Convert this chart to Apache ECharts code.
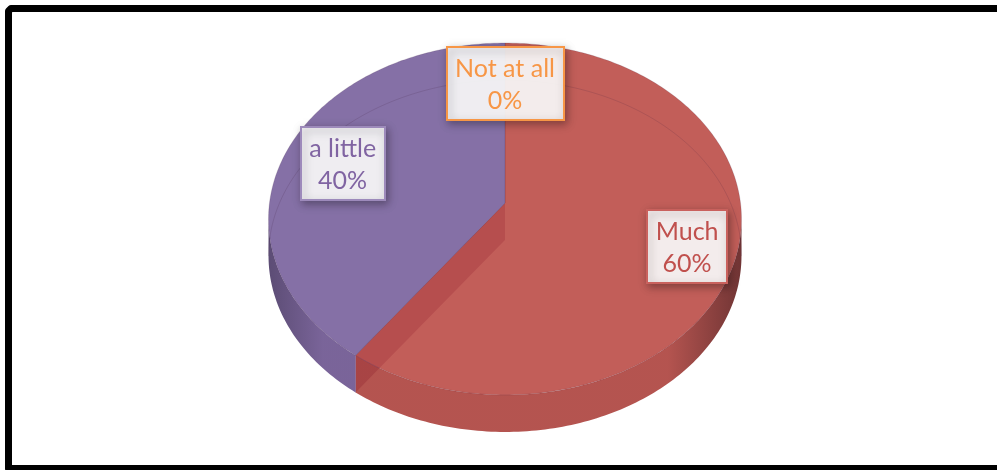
<!DOCTYPE html>
<html>
<head>
<meta charset="utf-8">
<script src="https://cdn.jsdelivr.net/npm/echarts@6/dist/echarts.min.js"></script>
<style>
  html, body { margin: 0; padding: 0; background: #fff; overflow: hidden; }
  #chart { width: 997px; height: 470px; }
</style>
</head>
<body>
<div id="chart"></div>
<script>
// Survey answers and their shares
const categories = ['Much', 'a little', 'Not at all'];
const values = [60, 40, 0];

// Per-category look of the 3D slices and their labels
const sliceStyle = {
  'Much':       { top: '#bb4d47', wallLight: '#ac413c', wallDark: '#5e1d1d', face: '#7f578c', text: '#C0504D', border: '#c9615d' },
  'a little':   { top: '#78609c', wallLight: '#6b538e', wallDark: '#483763', face: '#7f578c', text: '#8064A2', border: '#9d8abb' },
  'Not at all': { top: '#F79646', wallLight: '#e0853a', wallDark: '#8a4a18', face: '#c8742f', text: '#F79646', border: '#F79646' }
};

// Tilted disc: centre, radii, perspective strength and wall depth (px)
const PIE = { cx: 505, cy: 203, rx: 235.5, ry: 174.5, persp: 0.0909, depth: 37, topAlpha: 0.9 };
const LABEL_FONT = '25px Lato';
const LABEL_LINE = 32;
const LABEL_PAD = [4.5, 8.5];

const total = values.reduce((s, v) => s + v, 0);

// Angle measured clockwise from 12 o'clock, r as fraction of radius
function proj(deg, r, dz) {
  const t = deg * Math.PI / 180;
  const u = r * Math.sin(t), v = -r * Math.cos(t);
  const w = 1 - PIE.persp * v;
  return [PIE.cx + PIE.rx * u / w, PIE.cy + PIE.ry * v / w + (dz || 0)];
}
function insideDisc(x, y, rMax) {
  const t = (y - PIE.cy) / PIE.ry;
  const v = t / (1 + PIE.persp * t);
  const u = (x - PIE.cx) / PIE.rx * (1 - PIE.persp * v);
  return u * u + v * v <= rMax * rMax;
}
function arc(a1, a2, r, dz) {
  const n = Math.max(2, Math.ceil(Math.abs(a2 - a1)));
  const pts = [];
  for (let k = 0; k <= n; k++) pts.push(proj(a1 + (a2 - a1) * k / n, r, dz));
  return pts;
}

// Silhouette extremes: the wall is visible between the rightmost and leftmost rim points
let thR = 90, thL = 270, xMax = -Infinity, xMin = Infinity;
for (let a = 0; a <= 360; a += 0.25) {
  const x = proj(a, 1, 0)[0];
  if (x > xMax) { xMax = x; thR = a; }
  if (x < xMin) { xMin = x; thL = a; }
}

const measureCtx = document.createElement('canvas').getContext('2d');
function labelBox(lines) {
  measureCtx.font = LABEL_FONT;
  const w = Math.max(...lines.map(s => measureCtx.measureText(s).width));
  return { w: w + LABEL_PAD[1] * 2, h: lines.length * LABEL_LINE + LABEL_PAD[0] * 2 };
}

function renderItem(params, api) {
  const i = params.dataIndex;
  const name = categories[i];
  const val = api.value(0);
  const st = sliceStyle[name];
  const before = values.slice(0, i).reduce((s, v) => s + v, 0);
  const a1 = before / total * 360;
  const a2 = (before + val) / total * 360;
  const D = PIE.depth;
  const C = proj(0, 0, 0);
  const children = [];

  if (a2 > a1) {
    // cut faces that turn towards the viewer (seen through the neighbouring slice)
    const faces = [];
    if (Math.sin(a1 * Math.PI / 180) < -1e-6) faces.push(a1);
    if (Math.sin(a2 * Math.PI / 180) > 1e-6) faces.push(a2);
    faces.forEach(a => {
      const P = proj(a, 1, 0);
      children.push({
        type: 'polygon', z2: 1,
        shape: { points: [C, P, [P[0], P[1] + D], [C[0], C[1] + D]] },
        style: { fill: st.face, opacity: 0.95 }
      });
    });

    // front wall
    const s = Math.max(a1, thR), e = Math.min(a2, thL);
    if (e > s) {
      const pts = arc(s, e, 1, 0).concat(arc(e, s, 1, D));
      const x0 = PIE.cx - PIE.rx - 4, x1 = PIE.cx + PIE.rx + 4;
      children.push({
        type: 'polygon', z2: 2,
        shape: { points: pts },
        style: {
          fill: new echarts.graphic.LinearGradient(x0, 0, x1, 0, [
            { offset: 0, color: st.wallDark },
            { offset: 0.12, color: st.wallLight },
            { offset: 0.84, color: st.wallLight },
            { offset: 1, color: st.wallDark }
          ], true),
          opacity: PIE.topAlpha
        }
      });
    }

    // top face
    children.push({
      type: 'polygon', z2: 3,
      shape: { points: [C].concat(arc(a1, a2, 1, 0)) },
      style: { fill: st.top, opacity: PIE.topAlpha, stroke: 'rgba(60,30,60,0.18)', lineWidth: 1 }
    });

    // rear rim of the base showing through the translucent top
    const backRanges = [[a1, Math.min(a2, thR)], [Math.max(a1, thL), a2]];
    backRanges.forEach(([b1, b2]) => {
      if (b2 > b1) {
        children.push({
          type: 'polyline', z2: 4,
          shape: { points: arc(b1, b2, 1, D) },
          style: { stroke: 'rgba(60,30,60,0.16)', lineWidth: 1, fill: null }
        });
      }
    });
  }

  // data label: "name\npercent", boxed, pushed out towards the rim
  const pct = Math.round(val / total * 100) + '%';
  const lines = [name, pct];
  const box = labelBox(lines);
  const mid = a2 > a1 ? (a1 + a2) / 2 : a1 === 0 ? 360 : a1;
  let pos = proj(mid, 0.5, 0);
  for (let r = 1; r >= 0; r -= 0.005) {
    const p = proj(mid, r, 0);
    const hx = box.w / 2, hy = box.h / 2;
    if (insideDisc(p[0] - hx, p[1] - hy, 1.01) && insideDisc(p[0] + hx, p[1] - hy, 1.01) &&
        insideDisc(p[0] - hx, p[1] + hy, 1.01) && insideDisc(p[0] + hx, p[1] + hy, 1.01)) { pos = p; break; }
  }
  children.push({
    type: 'rect', z2: 10,
    shape: { x: Math.round(pos[0] - box.w / 2), y: Math.round(pos[1] - box.h / 2), width: Math.round(box.w), height: Math.round(box.h) },
    style: {
      fill: 'rgba(255,255,255,0.9)', stroke: st.border, lineWidth: 2,
      shadowBlur: 8, shadowColor: 'rgba(0,0,0,0.35)', shadowOffsetX: 2, shadowOffsetY: 3
    }
  });
  children.push({
    type: 'text', z2: 11,
    x: pos[0], y: pos[1] + 1,
    style: {
      text: lines.join('\n'), font: LABEL_FONT, lineHeight: LABEL_LINE,
      fill: st.text, align: 'center', verticalAlign: 'middle'
    }
  });

  return { type: 'group', children };
}

const chart = echarts.init(document.getElementById('chart'), null, { renderer: 'canvas' });
chart.setOption({
  animation: false,
  backgroundColor: '#ffffff',
  // frame: top, left and bottom edges (the right edge lies beyond the page)
  graphic: [{
    type: 'polyline', z: 100, silent: true,
    shape: { points: [[1100, 8.5], [11, 8.5], [8.5, 11], [8.5, 468.5], [1100, 468.5]] },
    style: { fill: null, stroke: '#000', lineWidth: 7, lineJoin: 'round' }
  }],
  series: [{
    type: 'custom',
    coordinateSystem: 'none',
    silent: true,
    data: values.map((v, i) => ({ name: categories[i], value: v })),
    renderItem
  }]
});
</script>
</body>
</html>
